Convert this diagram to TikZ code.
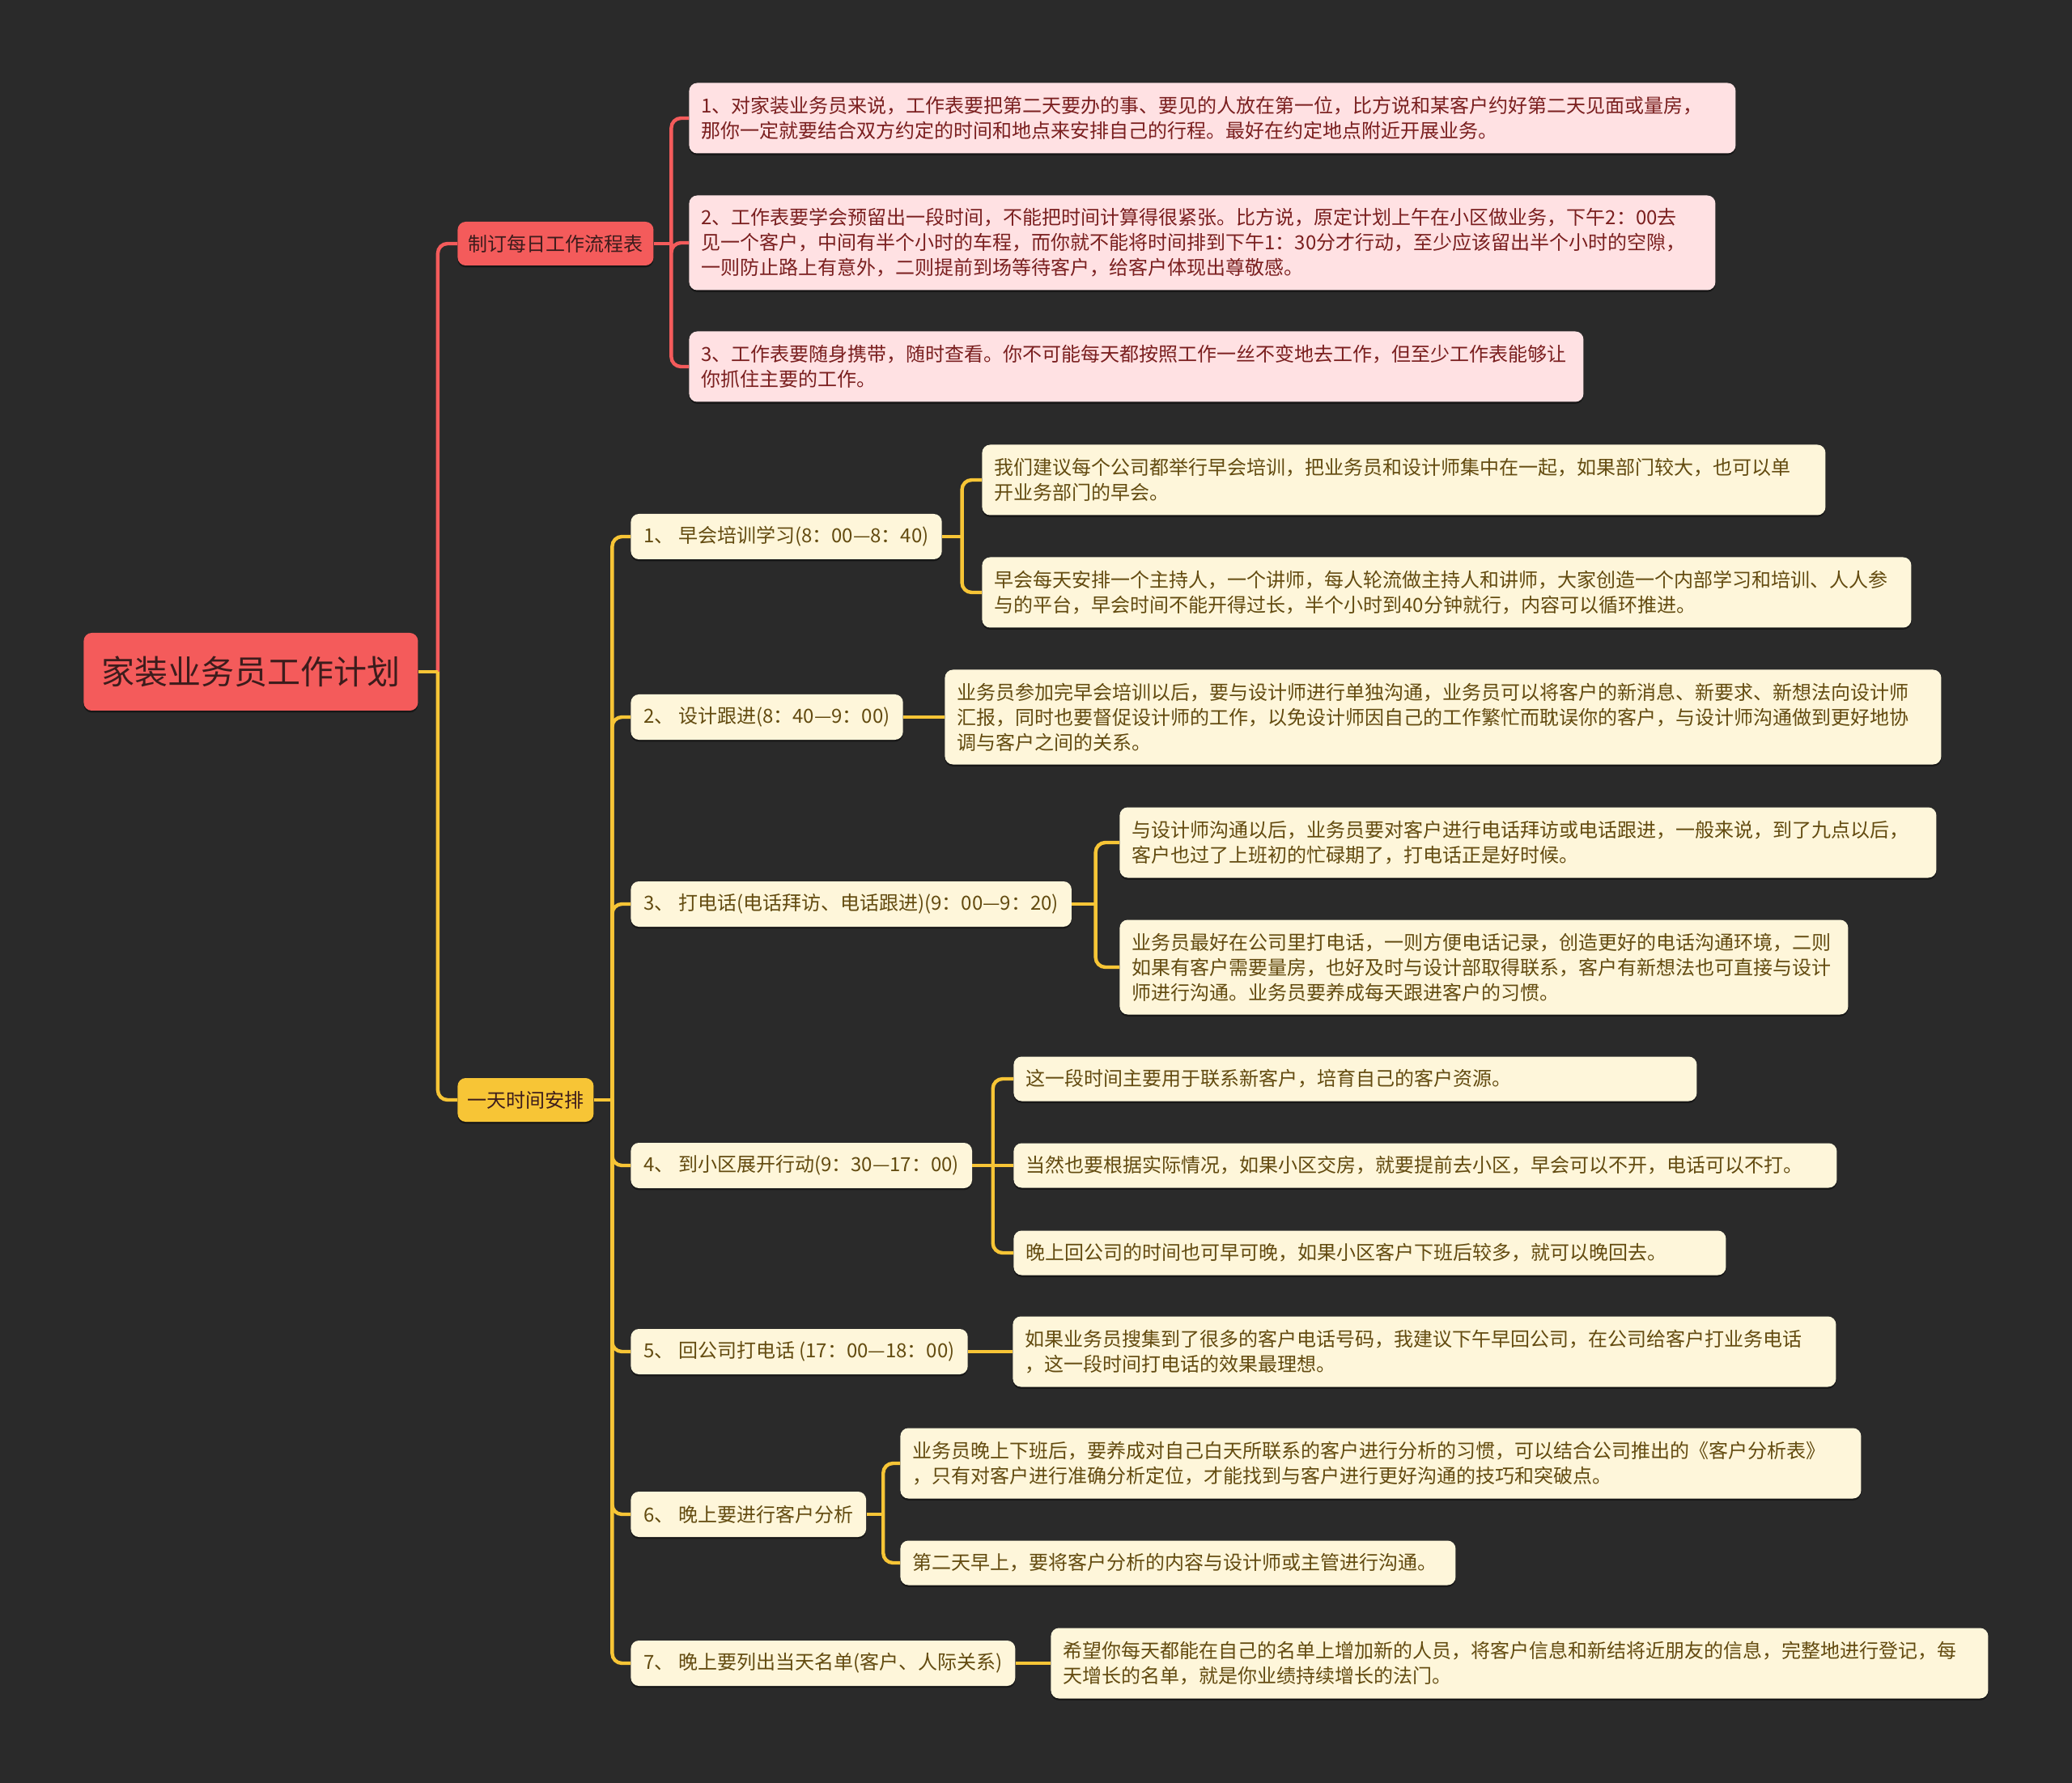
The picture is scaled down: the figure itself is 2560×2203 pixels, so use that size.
\documentclass[tikz,border=0pt]{standalone}
\usepackage{fontspec}
\setmainfont{Noto Sans CJK SC}
\usetikzlibrary{calc,shadows}
\definecolor{bgdark}{HTML}{2A2A2A}
\definecolor{mapred}{HTML}{F45B5B}
\definecolor{mapyellow}{HTML}{F7C536}
\definecolor{pinkleaf}{HTML}{FFE1E3}
\definecolor{creamleaf}{HTML}{FEF6DA}
\definecolor{redtext}{HTML}{7A1F1F}
\definecolor{roottext}{HTML}{3C1C1C}
\definecolor{browntext}{HTML}{634B10}

\begin{document}
\begin{tikzpicture}[x=0.5pt,y=-0.5pt,
  box/.style={rounded corners=5pt,anchor=west,inner ysep=0pt,inner xsep=7.5pt,
    font=\fontsize{12}{15.5}\selectfont,
    drop shadow={shadow xshift=0pt,shadow yshift=-1.2pt,fill=black,opacity=.45}},
  rootbox/.style={box,fill=mapred,text=roottext,inner xsep=11pt,minimum height=48pt,
    font=\fontsize{20.5}{24}\selectfont},
  redbranch/.style={box,fill=mapred,text=roottext,inner xsep=6.5pt,minimum height=27pt},
  yelbranch/.style={box,fill=mapyellow,text=roottext,inner xsep=6pt,minimum height=27pt},
  subbox/.style={box,fill=creamleaf,text=browntext,inner xsep=8pt,minimum height=28pt},
  rleaf/.style={box,fill=pinkleaf,text=redtext,align=left,text width=#1},
  yleaf/.style={box,fill=creamleaf,text=browntext,align=left,text width=#1},
  one/.style={minimum height=27.5pt},
  two/.style={minimum height=43.5pt},
  three/.style={minimum height=58.5pt},
  redline/.style={draw=mapred,line width=2.2pt},
  yelline/.style={draw=mapyellow,line width=2.2pt}]
  \def\conn#1#2#3{%
    \draw[#1] (#2.east) -- ($(#2.east)!.5!(#3.west |- #2.east)$);
    \draw[#1,rounded corners=6pt] ($(#2.east)!.5!(#3.west |- #2.east)$) |- (#3.west);}
  \def\straight#1#2#3{\draw[#1] (#2.east) -- (#3.west |- #2.east);}
  \fill[bgdark] (0,0) rectangle (2560,2203);
  \useasboundingbox (0,0) rectangle (2560,2203);

  % root and first level
  \node[rootbox] (plan) at (103,830) {家装业务员工作计划};
  \node[redbranch] (table) at (565,301) {制订每日工作流程表};
  \node[yelbranch] (day) at (565,1359) {一天时间安排};

  % daily work table
  \node[rleaf=631.5pt,two] (t1) at (851,146) {1、对家装业务员来说，工作表要把第二天要办的事、要见的人放在第一位，比方说和某客户约好第二天见面或量房，\\那你一定就要结合双方约定的时间和地点来安排自己的行程。最好在约定地点附近开展业务。};
  \node[rleaf=619pt,three] (t2) at (851,300) {2、工作表要学会预留出一段时间，不能把时间计算得很紧张。比方说，原定计划上午在小区做业务，下午2：00去\\见一个客户，中间有半个小时的车程，而你就不能将时间排到下午1：30分才行动，至少应该留出半个小时的空隙，\\一则防止路上有意外，二则提前到场等待客户，给客户体现出尊敬感。};
  \node[rleaf=537.5pt,two] (t3) at (851,453) {3、工作表要随身携带，随时查看。你不可能每天都按照工作一丝不变地去工作，但至少工作表能够让\\你抓住主要的工作。};

  % one day schedule
  \node[subbox] (s1) at (779,663) {1、 早会培训学习(8：00—8：40)};
  \node[subbox] (s2) at (779,886) {2、 设计跟进(8：40—9：00)};
  \node[subbox] (s3) at (779,1117) {3、 打电话(电话拜访、电话跟进)(9：00—9：20)};
  \node[subbox] (s4) at (779,1440) {4、 到小区展开行动(9：30—17：00)};
  \node[subbox] (s5) at (779,1670) {5、 回公司打电话 (17：00—18：00)};
  \node[subbox] (s6) at (779,1871) {6、 晚上要进行客户分析};
  \node[subbox] (s7) at (779,2055) {7、 晚上要列出当天名单(客户、人际关系)};

  \node[yleaf=506pt,two] (s1a) at (1213,593) {我们建议每个公司都举行早会培训，把业务员和设计师集中在一起，如果部门较大，也可以单\\开业务部门的早会。};
  \node[yleaf=559pt,two] (s1b) at (1213,732) {早会每天安排一个主持人，一个讲师，每人轮流做主持人和讲师，大家创造一个内部学习和培训、人人参\\与的平台，早会时间不能开得过长，半个小时到40分钟就行，内容可以循环推进。};
  \node[yleaf=600.5pt,three] (s2a) at (1167,886) {业务员参加完早会培训以后，要与设计师进行单独沟通，业务员可以将客户的新消息、新要求、新想法向设计师\\汇报，同时也要督促设计师的工作，以免设计师因自己的工作繁忙而耽误你的客户，与设计师沟通做到更好地协\\调与客户之间的关系。};
  \node[yleaf=489.5pt,two] (s3a) at (1383,1041) {与设计师沟通以后，业务员要对客户进行电话拜访或电话跟进，一般来说，到了九点以后，\\客户也过了上班初的忙碌期了，打电话正是好时候。};
  \node[yleaf=435pt,three] (s3b) at (1383,1195) {业务员最好在公司里打电话，一则方便电话记录，创造更好的电话沟通环境，二则\\如果有客户需要量房，也好及时与设计部取得联系，客户有新想法也可直接与设计\\师进行沟通。业务员要养成每天跟进客户的习惯。};
  \node[yleaf=407pt,one] (s4a) at (1252,1333) {这一段时间主要用于联系新客户，培育自己的客户资源。};
  \node[yleaf=493.5pt,one] (s4b) at (1252,1440) {当然也要根据实际情况，如果小区交房，就要提前去小区，早会可以不开，电话可以不打。};
  \node[yleaf=425pt,one] (s4c) at (1252,1548) {晚上回公司的时间也可早可晚，如果小区客户下班后较多，就可以晚回去。};
  \node[yleaf=493.5pt,two] (s5a) at (1251,1670) {如果业务员搜集到了很多的客户电话号码，我建议下午早回公司，在公司给客户打业务电话\\，这一段时间打电话的效果最理想。};
  \node[yleaf=578.5pt,two] (s6a) at (1112,1808) {业务员晚上下班后，要养成对自己白天所联系的客户进行分析的习惯，可以结合公司推出的《客户分析表》\\，只有对客户进行准确分析定位，才能找到与客户进行更好沟通的技巧和突破点。};
  \node[yleaf=328pt,one] (s6b) at (1112,1931) {第二天早上，要将客户分析的内容与设计师或主管进行沟通。};
  \node[yleaf=564pt,two] (s7a) at (1298,2055) {希望你每天都能在自己的名单上增加新的人员，将客户信息和新结将近朋友的信息，完整地进行登记，每\\天增长的名单，就是你业绩持续增长的法门。};

  % connectors
  \conn{redline}{plan}{table}
  \conn{yelline}{plan}{day}
  \foreach \t in {t1,t2,t3} {\conn{redline}{table}{\t}}
  \foreach \s in {s1,s2,s3,s4,s5,s6,s7} {\conn{yelline}{day}{\s}}
  \conn{yelline}{s1}{s1a} \conn{yelline}{s1}{s1b}
  \straight{yelline}{s2}{s2a}
  \conn{yelline}{s3}{s3a} \conn{yelline}{s3}{s3b}
  \conn{yelline}{s4}{s4a} \straight{yelline}{s4}{s4b} \conn{yelline}{s4}{s4c}
  \straight{yelline}{s5}{s5a}
  \conn{yelline}{s6}{s6a} \conn{yelline}{s6}{s6b}
  \straight{yelline}{s7}{s7a}
\end{tikzpicture}
\end{document}
